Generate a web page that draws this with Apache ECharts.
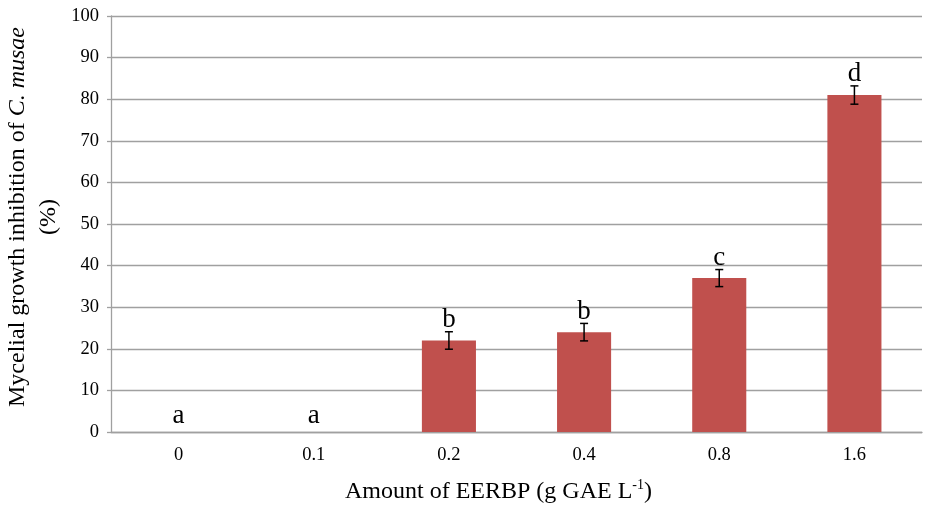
<!DOCTYPE html>
<html>
<head>
<meta charset="utf-8">
<script src="https://cdn.jsdelivr.net/npm/echarts@6/dist/echarts.min.js"></script>
<style>html,body{margin:0;padding:0;background:#fff}#c{width:929px;height:506px}</style>
</head>
<body>
<div id="c"></div>
<script>
var categories = ['0', '0.1', '0.2', '0.4', '0.8', '1.6'];
var values = [0, 0, 22, 24, 37, 81];
var errors = [0, 0, 2.1, 2.1, 2.05, 2.2];
var letters = ['a', 'a', 'b', 'b', 'c', 'd'];
var yTicks = [0, 10, 20, 30, 40, 50, 60, 70, 80, 90, 100];

var FONT = '"Liberation Serif", "Times New Roman", serif';
var chart = echarts.init(document.getElementById('c'));

var errData = categories.map(function (c, i) { return [i, values[i], errors[i]]; });

chart.setOption({
  animation: false,
  grid: { left: 111, right: 7, top: 16, bottom: 74, containLabel: false, outerBoundsMode: 'none' },
  xAxis: {
    type: 'category',
    data: categories,
    axisLine: { lineStyle: { color: '#a0a0a0', width: 1.3 } },
    axisTick: { show: false },
    axisLabel: { color: '#000', fontFamily: FONT, fontSize: 18.5, margin: 14 },
    name: 'Amount of EERBP (g GAE L{sup|-1})',
    nameLocation: 'middle',
    nameGap: 46,
    nameTextStyle: {
      color: '#000', fontFamily: FONT, fontSize: 24, lineHeight: 28,
      padding: [0, 36, 0, 0],
      rich: { sup: { fontFamily: FONT, fontSize: 14, color: '#000', verticalAlign: 'top', lineHeight: 24 } }
    }
  },
  yAxis: {
    type: 'value',
    min: 0, max: 100, interval: 10,
    axisLine: { show: true, lineStyle: { color: '#a0a0a0', width: 1.3 } },
    axisTick: { show: true, length: 4, lineStyle: { color: '#a0a0a0', width: 1.3 } },
    splitLine: { lineStyle: { color: '#a0a0a0', width: 1.3 } },
    axisLabel: {
      color: '#000', fontFamily: FONT, fontSize: 18.5, margin: 12,
      formatter: function (v) { return yTicks.indexOf(v) >= 0 ? String(v) : ''; }
    },
    name: '{n|Mycelial growth inhibition of }{it|C. musae}\n{n|(%)}',
    nameLocation: 'middle',
    nameRotate: 90,
    nameGap: 45,
    nameTextStyle: {
      color: '#000', fontFamily: FONT, fontSize: 24,
      padding: [0, 0, 0, 14],
      rich: {
        n: { fontFamily: FONT, fontSize: 24, color: '#000', lineHeight: 31 },
        it: { fontFamily: FONT, fontSize: 24, color: '#000', fontStyle: 'italic', lineHeight: 31 }
      }
    }
  },
  series: [
    {
      type: 'bar',
      data: values,
      barWidth: '40%',
      itemStyle: { color: '#c0504d' }
    },
    {
      type: 'custom',
      data: errData,
      z: 10,
      renderItem: function (params, api) {
        var x = api.value(0), v = api.value(1), e = api.value(2);
        var top = api.coord([x, v + e]);
        var bot = api.coord([x, v - e]);
        var cx = top[0];
        var children = [];
        var textY;
        if (e > 0) {
          var hw = 4;
          var st = { stroke: '#000', lineWidth: 1.5 };
          children.push({ type: 'line', shape: { x1: cx, y1: top[1], x2: cx, y2: bot[1] }, style: st });
          children.push({ type: 'line', shape: { x1: cx - hw, y1: top[1], x2: cx + hw, y2: top[1] }, style: st });
          children.push({ type: 'line', shape: { x1: cx - hw, y1: bot[1], x2: cx + hw, y2: bot[1] }, style: st });
          textY = top[1] + 2;
        } else {
          textY = top[1] - 3;
        }
        children.push({
          type: 'text',
          style: {
            text: letters[params.dataIndex],
            x: cx, y: textY,
            align: 'center', verticalAlign: 'bottom',
            font: '27px ' + FONT,
            fill: '#000'
          }
        });
        return { type: 'group', children: children };
      }
    }
  ]
});
</script>
</body>
</html>
